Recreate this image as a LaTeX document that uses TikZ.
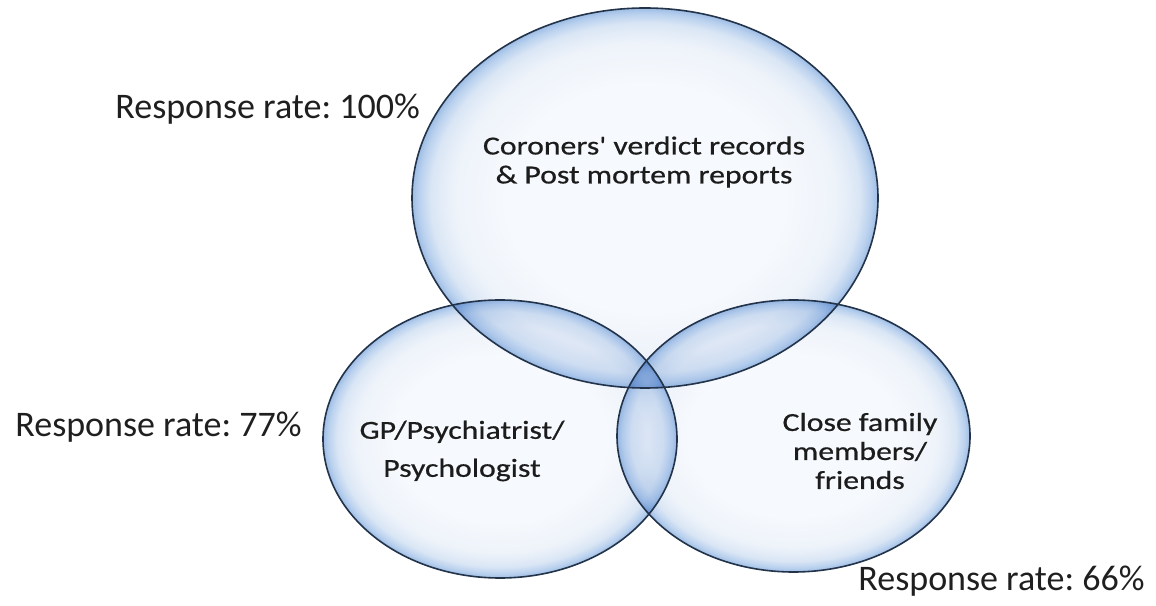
\documentclass[tikz,border=0pt]{standalone}
\usepackage{fontspec}
\setmainfont{Carlito}
\newfontfamily\vennfont[FakeStretch=1.22,FakeBold=0.6]{Carlito}
\usetikzlibrary{shapes.geometric}
\frenchspacing

% glassy bubble fill: light centre, blue rim towards the outline
\definecolor{bubin}{HTML}{F6F9FD}
\definecolor{bubmid}{HTML}{EEF3FA}
\definecolor{bubrim}{HTML}{DAE6F5}
\definecolor{bubdeep}{HTML}{B8D0EE}
\definecolor{bubedge}{HTML}{9DBCE4}
\definecolor{rimline}{HTML}{22334A}
\definecolor{inktext}{HTML}{1C1C1C}
\pgfdeclareradialshading{bubble}{\pgfpoint{0bp}{0bp}}{%
  color(0bp)=(bubin); color(15bp)=(bubin); color(20.5bp)=(bubmid);
  color(23bp)=(bubrim); color(24.3bp)=(bubdeep); color(25bp)=(bubedge);
  color(50bp)=(bubedge)}

\tikzset{
  bubblefill/.style={shading=bubble},
  bubbleline/.style={draw=rimline, line width=0.8pt},
  setlabel/.style={font=\vennfont\fontsize{13}{14.5}\selectfont, text=inktext,
    align=center, inner sep=0pt},
  ratelabel/.style={font=\fontsize{18}{22}\selectfont, text=black!88,
    anchor=base west, inner sep=0pt}
}

\begin{document}
\begin{tikzpicture}[x=0.5pt, y=0.5pt]
  \useasboundingbox (0,0) rectangle (1156,605);

  % the three sets
  \def\toppath{(645,407) ellipse [x radius=233, y radius=190]}
  \def\gppath{(500,166) ellipse [x radius=177, y radius=139]}
  \def\fampath{(793.5,169) ellipse [x radius=176.5, y radius=136]}

  \begin{scope}[blend mode=multiply]
    \shade[bubblefill] \toppath;
    \shade[bubblefill] \gppath;
    \shade[bubblefill] \fampath;
  \end{scope}
  \draw[bubbleline] \toppath;
  \draw[bubbleline] \gppath;
  \draw[bubbleline] \fampath;

  % set names
  \node[setlabel] (coroner) at (644,443) {Coroners' verdict records\\\& Post mortem reports};
  \node[setlabel, font=\vennfont\fontsize{13}{19}\selectfont] (gp) at (462,154) {GP/Psychiatrist/\\Psychologist};
  \node[setlabel] (family) at (860,154) {Close family\\members/\\friends};

  % response rates
  \node[ratelabel] (rtop) at (115,486) {Response rate: 100\%};
  \node[ratelabel] (rgp) at (15,168) {Response rate: 77\%};
  \node[ratelabel] (rfam) at (858,15) {Response rate: 66\%};
\end{tikzpicture}
\end{document}
